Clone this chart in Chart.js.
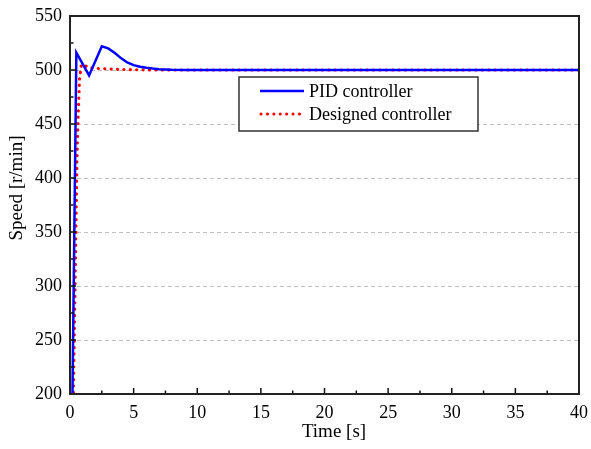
<!DOCTYPE html>
<html>
<head>
<meta charset="utf-8">
<script src="https://cdn.jsdelivr.net/npm/chart.js@4.4.0/dist/chart.umd.min.js"></script>
<style>
  html, body { margin: 0; padding: 0; background: #fff; }
  #wrap { width: 591px; height: 449px; }
</style>
</head>
<body>
<div id="wrap"><canvas id="speedChart" width="591" height="449"></canvas></div>
<script>
// Datos
const pidTime  = [0, 0.5, 1.5, 2.5, 3, 3.5, 4, 4.5, 5, 5.5, 6, 6.5, 7, 8, 9, 10, 40];
const pidSpeed = [0, 516, 495, 522, 520, 516, 511, 507, 504.5, 503, 502, 501.3, 500.8, 500.3, 500.1, 500, 500];

const desTime  = [0, 0.25, 0.4, 0.55, 0.65, 0.75, 0.9, 1.2, 1.5, 2, 3, 4, 6, 8, 40];
const desSpeed = [0, 190, 300, 420, 460, 492, 505, 504, 502, 501.5, 501, 500.5, 500.1, 500, 500];

const xTicks = [0, 5, 10, 15, 20, 25, 30, 35, 40];
const yTicks = [200, 250, 300, 350, 400, 450, 500, 550];

const labels = ["PID controller", "Designed controller"];
const colores = ["#0000ff", "#ff0000"];

function toPoints(t, v) {
    return t.map((x, i) => ({ x: x, y: v[i] }));
}

// Rejilla, ticks internos, marco y titulos
const marcoPlugin = {
    id: "marco",
    beforeDatasetsDraw(chart) {
        const { ctx, chartArea: a, scales: { x, y } } = chart;
        ctx.save();
        ctx.strokeStyle = "#c0c0c0";
        ctx.lineWidth = 1;
        ctx.setLineDash([4, 3]);
        yTicks.forEach(v => {
            if (v === 200 || v === 550) return;
            const py = Math.round(y.getPixelForValue(v)) + 0.5;
            ctx.beginPath();
            ctx.moveTo(a.left, py);
            ctx.lineTo(a.right, py);
            ctx.stroke();
        });
        ctx.restore();
    },
    afterDatasetsDraw(chart) {
        const { ctx, chartArea: a, scales: { x, y } } = chart;
        ctx.save();
        ctx.strokeStyle = "#111";
        ctx.lineWidth = 1.5;
        // ticks internos
        for (let v = 0; v <= 40; v += 2.5) {
            const px = x.getPixelForValue(v);
            const len = (v % 5 === 0) ? 6 : 3.5;
            ctx.beginPath();
            ctx.moveTo(px, a.bottom);
            ctx.lineTo(px, a.bottom - len);
            ctx.stroke();
        }
        for (let v = 200; v <= 550; v += 25) {
            const py = y.getPixelForValue(v);
            const len = (v % 50 === 0) ? 6 : 3.5;
            ctx.beginPath();
            ctx.moveTo(a.left, py);
            ctx.lineTo(a.left + len, py);
            ctx.stroke();
        }
        // marco
        ctx.lineWidth = 2;
        ctx.strokeStyle = "#222";
        ctx.strokeRect(a.left, a.top, a.right - a.left, a.bottom - a.top);

        // leyenda
        const lx = 239, ly = 77, lw = 239, lh = 54;
        ctx.fillStyle = "#fff";
        ctx.fillRect(lx, ly, lw, lh);
        ctx.lineWidth = 1.5;
        ctx.strokeStyle = "#333";
        ctx.strokeRect(lx, ly, lw, lh);
        ctx.font = "18px 'Liberation Serif', 'Times New Roman', serif";
        ctx.textBaseline = "middle";
        ctx.textAlign = "left";
        const filas = [91, 114];
        filas.forEach((fy, i) => {
            ctx.beginPath();
            ctx.strokeStyle = colores[i];
            ctx.lineWidth = i === 0 ? 2.5 : 3;
            ctx.lineCap = i === 0 ? "butt" : "round";
            ctx.setLineDash(i === 0 ? [] : [0.1, 6.3]);
            ctx.moveTo(i === 0 ? 260 : 261, fy);
            ctx.lineTo(304, fy);
            ctx.stroke();
            ctx.setLineDash([]);
            ctx.fillStyle = "#000";
            ctx.fillText(labels[i], 309, fy + 1);
        });

        // titulos de ejes
        ctx.font = "19px 'Liberation Serif', 'Times New Roman', serif";
        ctx.textAlign = "center";
        ctx.fillText("Time [s]", 334, 432);
        ctx.translate(17, 188);
        ctx.rotate(-Math.PI / 2);
        ctx.fillText("Speed [r/min]", 0, 0);
        ctx.restore();
    }
};

const tickFont = { family: "'Liberation Serif', 'Times New Roman', serif", size: 18 };

new Chart(document.getElementById("speedChart").getContext("2d"), {
    type: "line",
    data: {
        datasets: [
            {
                label: labels[0],
                data: toPoints(pidTime, pidSpeed),
                borderColor: colores[0],
                borderWidth: 2.5,
                pointRadius: 0,
                tension: 0,
                fill: false
            },
            {
                label: labels[1],
                data: toPoints(desTime, desSpeed),
                borderColor: colores[1],
                borderWidth: 3.2,
                borderDash: [0.1, 6.3],
                borderCapStyle: "round",
                pointRadius: 0,
                tension: 0,
                fill: false
            }
        ]
    },
    options: {
        responsive: false,
        animation: false,
        layout: { padding: { top: 16, right: 12, left: 0, bottom: 0 } },
        plugins: {
            legend: { display: false },
            tooltip: { enabled: false }
        },
        scales: {
            x: {
                type: "linear",
                min: 0,
                max: 40,
                afterBuildTicks: s => { s.ticks = xTicks.map(v => ({ value: v })); },
                afterFit: s => { s.height = 55; s.paddingLeft = 0; s.paddingRight = 0; },
                grid: { display: false, drawTicks: false },
                border: { display: false },
                ticks: { color: "#000", font: tickFont, padding: 8, maxRotation: 0 }
            },
            y: {
                type: "linear",
                min: 200,
                max: 550,
                afterBuildTicks: s => { s.ticks = yTicks.map(v => ({ value: v })); },
                afterFit: s => { s.width = 70; s.paddingTop = 0; s.paddingBottom = 0; },
                grid: { display: false, drawTicks: false },
                border: { display: false },
                ticks: { color: "#000", font: tickFont, padding: 8 }
            }
        }
    },
    plugins: [marcoPlugin]
});
</script>
</body>
</html>
